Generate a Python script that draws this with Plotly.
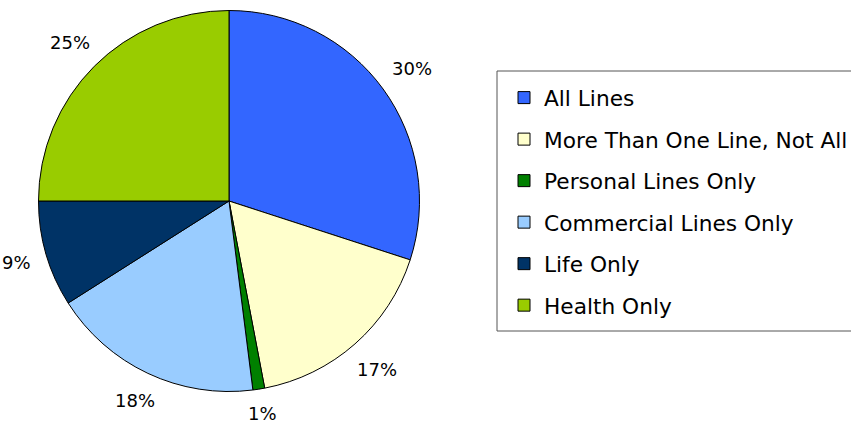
import math
import plotly.graph_objects as go

categories = ["All Lines", "More Than One Line, Not All", "Personal Lines Only",
              "Commercial Lines Only", "Life Only", "Health Only"]
values = [30, 17, 1, 18, 9, 25]
colors = ["#3366FF", "#FFFFCC", "#008000", "#99CCFF", "#003366", "#99CC00"]

W, H = 851, 423
FONT = "DejaVu Sans, Verdana, sans-serif"
LBL_SIZE = 18

# pie geometry (pixels)
CX, CY, R = 229, 201, 190.5
GAP = 15  # distance between the circle and the nearest edge of a label

fig = go.Figure()
fig.add_trace(go.Pie(
    labels=categories, values=values, sort=False, direction="clockwise", rotation=0,
    marker=dict(colors=colors, line=dict(color="black", width=1)),
    textinfo="none",
    domain=dict(x=[(CX - R) / W, (CX + R) / W], y=[1 - (CY + R) / H, 1 - (CY - R) / H]),
    showlegend=False, hoverinfo="label+percent",
))

# percentage labels outside the slices ("outside end" style), placed from the data
total = sum(values)
annotations = []
cum = 0
for v in values:
    theta = 2 * math.pi * (cum + v / 2) / total
    cum += v
    txt = f"{round(100 * v / total)}%"
    w = (len(txt) - 1) * 0.636 * LBL_SIZE + 0.95 * LBL_SIZE
    h = 14
    ext = abs(math.sin(theta)) * w / 2 + abs(math.cos(theta)) * h / 2
    r = R + GAP + ext
    px = CX + r * math.sin(theta)
    py = CY - r * math.cos(theta)
    annotations.append(dict(
        x=px / W, y=1 - py / H, xref="paper", yref="paper", text=txt, showarrow=False,
        xanchor="center", yanchor="middle",
        font=dict(family=FONT, size=LBL_SIZE, color="black"),
    ))

# legend entries (one group each so the gap between items can be set)
for name, col in zip(categories, colors):
    fig.add_trace(go.Scatter(
        x=[None], y=[None], mode="markers", name=name, legendgroup=name,
        marker=dict(symbol="square", size=12, color=col, line=dict(color="black", width=1)),
        hoverinfo="skip",
    ))

fig.update_layout(
    width=W, height=H,
    margin=dict(l=0, r=0, t=0, b=0, autoexpand=False),
    paper_bgcolor="white", plot_bgcolor="white",
    xaxis=dict(visible=False), yaxis=dict(visible=False),
    font=dict(family=FONT, color="black"),
    annotations=annotations,
    legend=dict(
        x=504 / W, xanchor="left", y=1 - 77 / H, yanchor="top",
        font=dict(family=FONT, size=21.7, color="black"),
        borderwidth=0, bgcolor="rgba(0,0,0,0)",
        tracegroupgap=10.3, itemsizing="trace", traceorder="grouped",
    ),
    shapes=[dict(
        type="rect", xref="paper", yref="paper",
        x0=497 / W, x1=870 / W, y0=1 - 331 / H, y1=1 - 71 / H,
        line=dict(color="#555555", width=1), fillcolor="white", layer="below",
    )],
)

fig.write_html("out.html", config={"displayModeBar": False},
               post_script="document.body.style.margin='0';")
